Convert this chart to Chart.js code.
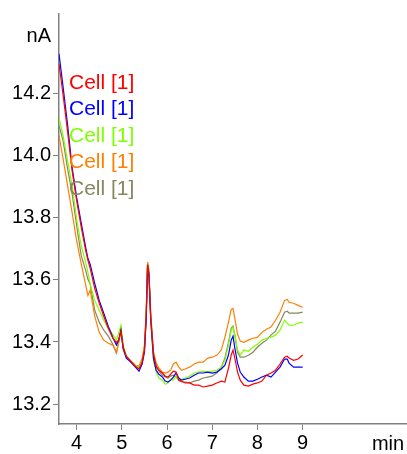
<!DOCTYPE html>
<html>
<head>
<meta charset="utf-8">
<script src="https://cdn.jsdelivr.net/npm/chart.js@4.4.1/dist/chart.umd.min.js"></script>
<style>
  html, body { margin: 0; padding: 0; background: #ffffff; }
  #wrap { width: 407px; height: 454px; }
</style>
</head>
<body>
<div id="wrap"><canvas id="c" width="407" height="454"></canvas></div>
<script>
// Retention time (min)
const timeMin = [3.61, 3.70, 3.80, 3.90, 4.00, 4.10, 4.20, 4.25, 4.30, 4.40,
  4.50, 4.60, 4.70, 4.80, 4.88, 4.93, 4.98, 5.03, 5.10, 5.20,
  5.30, 5.38, 5.45, 5.50, 5.54, 5.57, 5.60, 5.64, 5.70, 5.76,
  5.82, 5.90, 5.96, 6.02, 6.08, 6.14, 6.20, 6.26, 6.32, 6.40,
  6.50, 6.60, 6.70, 6.80, 6.90, 7.00, 7.10, 7.20, 7.28, 7.36,
  7.42, 7.46, 7.50, 7.56, 7.62, 7.70, 7.80, 7.90, 8.00, 8.10,
  8.20, 8.30, 8.40, 8.50, 8.60, 8.66, 8.70, 8.80, 8.90, 9.00];

// Cell current traces (nA)
const redTrace = [14.296, 14.197, 14.078, 13.952, 13.856, 13.772, 13.695, 13.663, 13.637, 13.573,
  13.525, 13.483, 13.444, 13.412, 13.399, 13.406, 13.435, 13.383, 13.354, 13.338,
  13.322, 13.313, 13.335, 13.374, 13.486, 13.650, 13.618, 13.476, 13.361, 13.322,
  13.309, 13.300, 13.290, 13.287, 13.296, 13.306, 13.303, 13.277, 13.274, 13.268,
  13.268, 13.261, 13.261, 13.255, 13.258, 13.261, 13.268, 13.274, 13.271, 13.316,
  13.358, 13.374, 13.348, 13.303, 13.277, 13.261, 13.258, 13.264, 13.268, 13.274,
  13.293, 13.300, 13.309, 13.329, 13.351, 13.354, 13.348, 13.341, 13.345, 13.358];

const blueTrace = [14.329, 14.222, 14.100, 13.962, 13.866, 13.785, 13.705, 13.669, 13.650, 13.589,
  13.534, 13.493, 13.451, 13.415, 13.390, 13.406, 13.438, 13.380, 13.348, 13.335,
  13.319, 13.306, 13.329, 13.367, 13.476, 13.647, 13.615, 13.470, 13.348, 13.309,
  13.296, 13.287, 13.274, 13.271, 13.277, 13.287, 13.300, 13.284, 13.277, 13.280,
  13.284, 13.293, 13.300, 13.300, 13.303, 13.300, 13.303, 13.313, 13.325, 13.358,
  13.406, 13.419, 13.380, 13.332, 13.303, 13.287, 13.274, 13.274, 13.280, 13.287,
  13.293, 13.287, 13.303, 13.319, 13.345, 13.345, 13.332, 13.319, 13.319, 13.319];

const greenTrace = [14.123, 14.065, 13.984, 13.904, 13.798, 13.711, 13.657, 13.624, 13.586, 13.534,
  13.502, 13.470, 13.444, 13.425, 13.406, 13.428, 13.454, 13.390, 13.354, 13.338,
  13.325, 13.316, 13.335, 13.374, 13.486, 13.653, 13.624, 13.470, 13.341, 13.303,
  13.284, 13.277, 13.264, 13.268, 13.280, 13.277, 13.290, 13.277, 13.280, 13.284,
  13.290, 13.300, 13.303, 13.306, 13.303, 13.306, 13.309, 13.319, 13.341, 13.390,
  13.438, 13.448, 13.422, 13.374, 13.358, 13.374, 13.370, 13.383, 13.393, 13.406,
  13.412, 13.415, 13.422, 13.438, 13.470, 13.461, 13.454, 13.454, 13.461, 13.464];

const orangeTrace = [14.065, 13.991, 13.904, 13.817, 13.727, 13.653, 13.583, 13.550, 13.567, 13.483,
  13.431, 13.406, 13.396, 13.390, 13.367, 13.399, 13.438, 13.374, 13.351, 13.338,
  13.325, 13.322, 13.348, 13.390, 13.502, 13.657, 13.631, 13.486, 13.367, 13.332,
  13.316, 13.303, 13.300, 13.303, 13.309, 13.329, 13.335, 13.319, 13.309, 13.313,
  13.319, 13.329, 13.335, 13.335, 13.348, 13.351, 13.357, 13.374, 13.415, 13.464,
  13.505, 13.508, 13.476, 13.425, 13.403, 13.399, 13.406, 13.412, 13.415, 13.431,
  13.441, 13.448, 13.470, 13.496, 13.534, 13.537, 13.528, 13.525, 13.518, 13.512];

const oliveTrace = [14.097, 14.049, 13.959, 13.878, 13.776, 13.679, 13.631, 13.602, 13.586, 13.502,
  13.464, 13.438, 13.419, 13.393, 13.364, 13.399, 13.438, 13.380, 13.351, 13.335,
  13.322, 13.316, 13.341, 13.380, 13.496, 13.657, 13.624, 13.489, 13.367, 13.322,
  13.306, 13.293, 13.287, 13.284, 13.290, 13.293, 13.287, 13.277, 13.271, 13.271,
  13.268, 13.274, 13.277, 13.284, 13.287, 13.290, 13.300, 13.319, 13.348, 13.399,
  13.444, 13.451, 13.422, 13.367, 13.351, 13.351, 13.357, 13.367, 13.383, 13.396,
  13.406, 13.422, 13.435, 13.464, 13.496, 13.499, 13.493, 13.493, 13.493, 13.496];

const seriesLabels = ['Cell [1]', 'Cell [1]', 'Cell [1]', 'Cell [1]', 'Cell [1]'];
const seriesColors = ['#ff0000', '#0000ff', '#80ff00', '#ff8000', '#86865f'];
const seriesValues = [redTrace, blueTrace, greenTrace, orangeTrace, oliveTrace];

const xTicks = [4, 5, 6, 7, 8, 9];
const yTicks = [13.2, 13.4, 13.6, 13.8, 14.0, 14.2];
const xUnit = 'min';
const yUnit = 'nA';

const FONT = 'Arial, "Liberation Sans", sans-serif';
const AXIS_GREY = '#808080';

// Series names written in their own colours inside the plot area,
// plus the unit labels next to each axis.
const annotations = {
  id: 'annotations',
  afterDraw(chart) {
    const ctx = chart.ctx;
    const area = chart.chartArea;
    ctx.save();
    ctx.font = '21px ' + FONT;
    ctx.textBaseline = 'middle';
    ctx.textAlign = 'left';
    chart.data.datasets.forEach((ds, i) => {
      ctx.fillStyle = ds.borderColor;
      ctx.fillText(ds.label, area.left + 10, area.top + 69 + i * 26.5);
    });
    ctx.font = '20px ' + FONT;
    ctx.fillStyle = '#000000';
    ctx.textAlign = 'right';
    ctx.fillText(yUnit, area.left - 8, area.top + 22);
    ctx.textAlign = 'center';
    ctx.fillText(xUnit, area.right - 18, chart.scales.x.bottom - 10);
    ctx.restore();
  }
};

new Chart(document.getElementById('c'), {
  type: 'line',
  data: {
    datasets: seriesValues.map((vals, i) => ({
      label: seriesLabels[i],
      data: timeMin.map((t, j) => ({ x: t, y: vals[j] })),
      borderColor: seriesColors[i],
      backgroundColor: seriesColors[i],
      borderWidth: 1.2,
      pointRadius: 0,
      tension: 0,
      fill: false
    }))
  },
  options: {
    responsive: false,
    animation: false,
    layout: { padding: { top: 13, right: 1, left: 0, bottom: 0 } },
    plugins: { legend: { display: false }, tooltip: { enabled: false } },
    scales: {
      x: {
        type: 'linear',
        min: 3.61,
        max: 11.287,
        afterBuildTicks(scale) { scale.ticks = xTicks.map(v => ({ value: v })); },
        afterFit(scale) { scale.height = 30; },
        ticks: {
          color: '#000000',
          font: { family: FONT, size: 20 },
          padding: 1,
          maxRotation: 0,
          autoSkip: false,
          callback: v => String(v)
        },
        grid: { display: true, drawOnChartArea: false, drawTicks: true, tickLength: 6, color: AXIS_GREY },
        border: { display: true, color: AXIS_GREY, width: 1.5 }
      },
      y: {
        type: 'linear',
        min: 13.1357,
        max: 14.457,
        afterBuildTicks(scale) { scale.ticks = yTicks.map(v => ({ value: v })); },
        afterFit(scale) { scale.width = 59; },
        ticks: {
          color: '#000000',
          font: { family: FONT, size: 20 },
          padding: 2,
          autoSkip: false,
          callback: v => Number(v).toFixed(1)
        },
        grid: { display: true, drawOnChartArea: false, drawTicks: true, tickLength: 6, color: AXIS_GREY },
        border: { display: true, color: AXIS_GREY, width: 1.5 }
      }
    }
  },
  plugins: [annotations]
});
</script>
</body>
</html>
